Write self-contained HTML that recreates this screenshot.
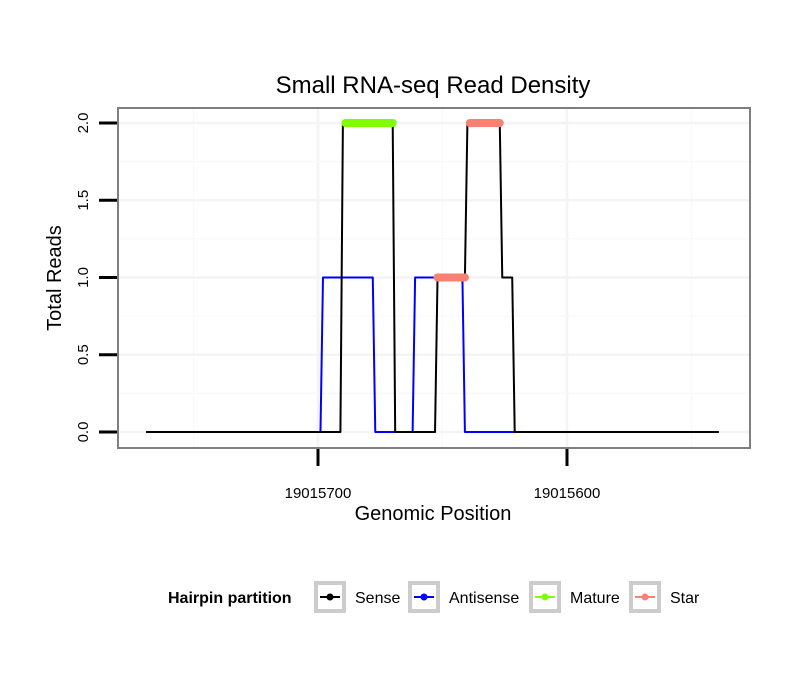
<!DOCTYPE html>
<html><head><meta charset="utf-8"><style>
body{margin:0;background:#fff;}
text{font-family:"Liberation Sans",sans-serif;}
</style></head><body>
<svg id="chart" width="810" height="690" xmlns="http://www.w3.org/2000/svg">
<rect width="810" height="690" fill="#fff"/>
<text x="433" y="93" font-size="24" text-anchor="middle">Small RNA-seq Read Density</text>
<g id="grid"></g>
<g id="series"></g>
<rect x="118" y="108" width="632" height="340" fill="none" stroke="#7f7f7f" stroke-width="2"/>
<g id="axes"></g>
<text x="433" y="520" font-size="20" text-anchor="middle">Genomic Position</text>
<text transform="translate(61,278) rotate(-90)" font-size="20" text-anchor="middle">Total Reads</text>
<g>
<text x="168" y="603" font-size="16" font-weight="bold">Hairpin partition</text>
<g id="legend"></g>
</g>
</svg>
<script>
const ns="http://www.w3.org/2000/svg";
const senseX=[19015769,19015691,19015690,19015670,19015669,19015653,19015652,19015641,19015640,19015627,19015626,19015622,19015621,19015539];
const senseY=[0,0,2,2,0,0,1,1,2,2,1,1,0,0];
const antiX=[19015769,19015699,19015698,19015678,19015677,19015662,19015661,19015642,19015641,19015621];
const antiY=[0,0,1,1,0,0,1,1,0,0];
const matureX=[19015689,19015670];const matureY=[2,2];
const star1X=[19015639,19015627];const star1Y=[2,2];
const star2X=[19015652,19015641];const star2Y=[1,1];
const yTicks=[0,0.5,1,1.5,2];
const yTickLabels=["0.0","0.5","1.0","1.5","2.0"];
const xTicks=[19015700,19015600];
const xTickLabels=["19015700","19015600"];
const xs=p=>318+(19015700-p)*2.49;
const ys=v=>432-v*154.5;
function mk(t,a,parent){const e=document.createElementNS(ns,t);for(const k in a)e.setAttribute(k,a[k]);document.getElementById(parent).appendChild(e);return e;}
[19015750,19015650,19015550].forEach(p=>{const l=mk('line',{x1:xs(p),x2:xs(p),y1:109,y2:447,stroke:'#f9f9f9','stroke-width':1.5},'grid');

});
xTicks.forEach(p=>{const l=mk('line',{x1:xs(p),x2:xs(p),y1:109,y2:447,stroke:'#f4f4f4','stroke-width':2.5},'grid');

});
[0.25,0.75,1.25,1.75].forEach(v=>{const l=mk('line',{x1:119,x2:749,y1:ys(v),y2:ys(v),stroke:'#f9f9f9','stroke-width':1.5},'grid');

});
yTicks.forEach(v=>{const l=mk('line',{x1:119,x2:749,y1:ys(v),y2:ys(v),stroke:'#f4f4f4','stroke-width':2.5},'grid');

});
function line(X,Y,color,w,name,cap){const pts=X.map((p,i)=>xs(p)+','+ys(Y[i])).join(' ');
const e=mk('polyline',{points:pts,fill:'none',stroke:color,'stroke-width':w,'stroke-linecap':cap,'stroke-linejoin':'round'},'series');

}
line(antiX,antiY,'#0000ff',2,'antisense-line','butt');
line(senseX,senseY,'#000000',2,'sense-line','butt');
line(matureX,matureY,'#7fff00',8,'mature-segment','round');
line(star1X,star1Y,'#fa8072',8,'star-segment-1','round');
line(star2X,star2Y,'#fa8072',8,'star-segment-2','round');
yTicks.forEach((v,i)=>{const t=mk('line',{x1:99,x2:117,y1:ys(v),y2:ys(v),stroke:'#000','stroke-width':3},'axes');


const tx=mk('text',{transform:`translate(88,${ys(v)}) rotate(-90)`,'font-size':15,'text-anchor':'middle'},'axes');tx.textContent=yTickLabels[i];

});
xTicks.forEach((p,i)=>{const t=mk('line',{x1:xs(p),x2:xs(p),y1:449,y2:466,stroke:'#000','stroke-width':3},'axes');


const tx=mk('text',{x:xs(p),y:498,'font-size':15,'text-anchor':'middle'},'axes');tx.textContent=xTickLabels[i];

});
const legNames=["Sense","Antisense","Mature","Star"];
const legColors=["#000000","#0000ff","#7fff00","#fa8072"];
const legX=[314,408,529,629];
legNames.forEach((n,i)=>{const x=legX[i];
const r=mk('rect',{x:x+2,y:583,width:28,height:28,fill:'#fff',stroke:'#cccccc','stroke-width':4},'legend');


mk('line',{x1:x+6,x2:x+26,y1:597,y2:597,stroke:legColors[i],'stroke-width':2},'legend');
mk('circle',{cx:x+16,cy:597,r:3.5,fill:legColors[i]},'legend');
const t=mk('text',{x:x+41,y:603,'font-size':16},'legend');t.textContent=n;

});
</script>
</body></html>
